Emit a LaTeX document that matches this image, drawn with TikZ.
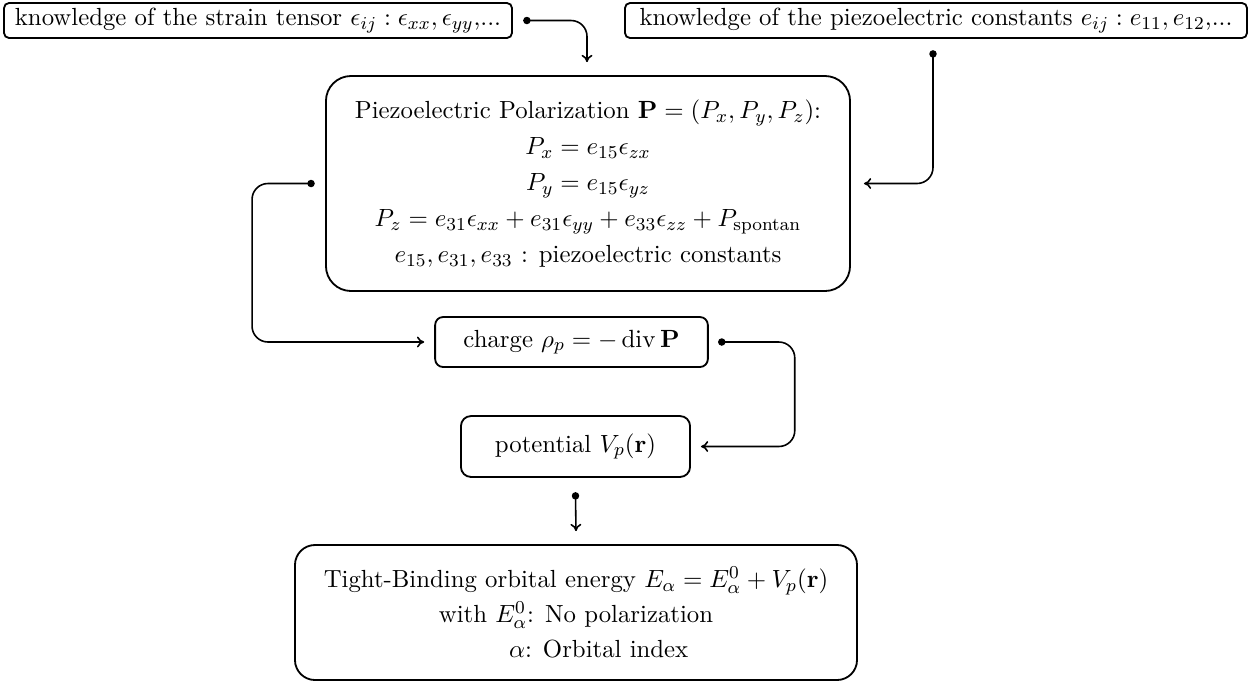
\documentclass[tikz,border=0pt]{standalone}
\usetikzlibrary{arrows.meta,calc}
\begin{document}
\begin{tikzpicture}[x=0.44pt,y=-0.44pt,
  box/.style={draw,line width=0.8pt,inner sep=0pt,align=center,font=\fontsize{10.9}{13}\selectfont},
  conn/.style={line width=0.7pt,rounded corners=7pt,-{To[length=3.2pt,width=4.8pt]}},
  dotc/.style={circle,fill,inner sep=0pt,minimum size=3.3pt}]
\useasboundingbox (0,0) rectangle (1251,685);
\node[box,rounded corners=2.2pt,minimum width=223.5pt,minimum height=15.4pt] (tl) at (258,20.5)
  {knowledge of the strain tensor $\epsilon_{ij}:\epsilon_{xx},\epsilon_{yy}$,...};
\node[box,rounded corners=2.2pt,minimum width=273.7pt,minimum height=15.4pt] (tr) at (936,20.5)
  {knowledge of the piezoelectric constants $e_{ij}:e_{11},e_{12}$,...};
\node[box,rounded corners=11pt,minimum width=230.6pt,minimum height=94.6pt] (pol) at (588,183.5)
  {Piezoelectric Polarization $\mathbf{P}=(P_x,P_y,P_z)$:\\[2.84pt]
   $P_x=e_{15}\epsilon_{zx}$\\[2.84pt]
   $P_y=e_{15}\epsilon_{yz}$\\[2.84pt]
   $P_z=e_{31}\epsilon_{xx}+e_{31}\epsilon_{yy}+e_{33}\epsilon_{zz}+P_{\mathrm{spontan}}$\\[2.84pt]
   $e_{15},e_{31},e_{33}$ : piezoelectric constants};
\node[box,rounded corners=3.5pt,minimum width=120pt,minimum height=22pt] (ch) at (571.5,342)
  {charge $\rho_p=-\,\mathrm{div}\,\mathbf{P}$};
\node[box,rounded corners=4.4pt,minimum width=100.8pt,minimum height=26.8pt] (pot) at (575.5,446.5)
  {potential $V_p(\mathbf{r})$};
\node[box,rounded corners=8.8pt,minimum width=247.3pt,minimum height=59.4pt] (tb) at (576,612.5)
  {Tight-Binding orbital energy $E_\alpha=E^0_\alpha+V_p(\mathbf{r})$\\[2.4pt]
   with $E^0_\alpha$: No polarization\\[2.4pt]
   \hspace*{20pt}$\alpha$: Orbital index};
% connector end points
\coordinate (s1) at ($(tl.east)+(14,0)$);
\coordinate (e1) at ($(pol.north)+(-1,-13)$);
\coordinate (s2) at ($(tr.south)+(-3,15)$);
\coordinate (e2) at ($(pol.east)+(13,0)$);
\coordinate (s3) at ($(pol.west)+(-14,0)$);
\coordinate (e3) at ($(ch.west)+(-10,0)$);
\coordinate (s4) at ($(ch.east)+(13,0)$);
\coordinate (e4) at ($(pot.east)+(10,0)$);
\coordinate (s5) at ($(pot.south)+(0,18)$);
\coordinate (e5) at ($(tb.north)+(0,-13)$);
\draw[conn] (s1) -| (e1);
\draw[conn] (s2) |- (e2);
\draw[conn] (s3) -- ++(-59,0) |- (e3);
\draw[conn] (s4) -- ++(73,0) |- (e4);
\draw[conn] (s5) -- (e5);
\foreach \p in {s1,s2,s3,s4,s5} \node[dotc] at (\p) {};
\end{tikzpicture}
\end{document}
